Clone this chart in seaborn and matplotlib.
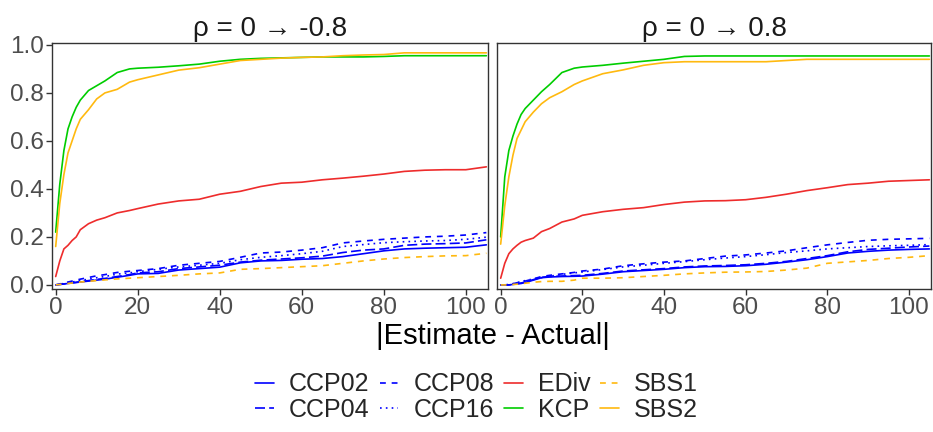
import matplotlib
matplotlib.use("Agg")
import matplotlib.pyplot as plt
from matplotlib.lines import Line2D
import seaborn as sns
import pandas as pd

x = [0, 1, 2, 3, 4, 5, 6, 8, 10, 12, 15, 18, 20, 25, 30, 35, 40, 45, 50,
     55, 60, 65, 70, 75, 80, 85, 90, 95, 100, 105]

# rho = 0 -> -0.8
ccp02_neg = [0, 0.002, 0.004, 0.006, 0.008, 0.01, 0.012, 0.016, 0.02, 0.024, 0.032, 0.04, 0.046, 0.048, 0.062,
             0.068, 0.074, 0.092, 0.10, 0.102, 0.107, 0.11, 0.118, 0.13, 0.142, 0.15, 0.153, 0.155, 0.157, 0.167]
ccp04_neg = [0, 0.002, 0.004, 0.007, 0.009, 0.011, 0.014, 0.018, 0.023, 0.027, 0.035, 0.043, 0.05, 0.055, 0.068,
             0.075, 0.082, 0.095, 0.103, 0.108, 0.113, 0.12, 0.135, 0.145, 0.15, 0.165, 0.17, 0.172, 0.175, 0.188]
ccp08_neg = [0, 0.004, 0.008, 0.012, 0.016, 0.02, 0.024, 0.031, 0.038, 0.043, 0.052, 0.057, 0.06, 0.068, 0.082,
             0.09, 0.098, 0.115, 0.133, 0.137, 0.145, 0.155, 0.175, 0.183, 0.19, 0.195, 0.2, 0.203, 0.208, 0.218]
ccp16_neg = [0, 0.003, 0.006, 0.009, 0.012, 0.015, 0.018, 0.024, 0.03, 0.035, 0.045, 0.05, 0.055, 0.065, 0.075,
             0.082, 0.09, 0.105, 0.115, 0.122, 0.13, 0.14, 0.16, 0.168, 0.176, 0.18, 0.183, 0.185, 0.19, 0.199]
ediv_neg = [0.035, 0.10, 0.15, 0.165, 0.185, 0.20, 0.23, 0.255, 0.27, 0.28, 0.30, 0.31, 0.318, 0.337, 0.35,
            0.357, 0.378, 0.39, 0.41, 0.424, 0.428, 0.438, 0.445, 0.453, 0.462, 0.473, 0.478, 0.48, 0.48, 0.492]
kcp_neg = [0.22, 0.42, 0.56, 0.65, 0.70, 0.74, 0.77, 0.81, 0.83, 0.85, 0.885, 0.90, 0.903, 0.907, 0.913,
           0.92, 0.932, 0.94, 0.944, 0.946, 0.948, 0.95, 0.95, 0.95, 0.952, 0.955, 0.955, 0.955, 0.955, 0.955]
sbs1_neg = [0, 0.002, 0.004, 0.006, 0.008, 0.01, 0.012, 0.015, 0.018, 0.021, 0.025, 0.028, 0.03, 0.035, 0.04,
            0.046, 0.05, 0.065, 0.068, 0.072, 0.076, 0.08, 0.09, 0.1, 0.108, 0.114, 0.118, 0.121, 0.122, 0.132]
sbs2_neg = [0.16, 0.34, 0.46, 0.55, 0.60, 0.65, 0.69, 0.73, 0.775, 0.80, 0.815, 0.845, 0.855, 0.875, 0.895,
            0.905, 0.92, 0.935, 0.94, 0.945, 0.948, 0.95, 0.955, 0.958, 0.96, 0.967, 0.967, 0.967, 0.967, 0.967]

# rho = 0 -> 0.8
ccp02_pos = [0, 0, 0, 0.002, 0.004, 0.006, 0.01, 0.02, 0.03, 0.033, 0.035, 0.036, 0.037, 0.045, 0.055,
             0.06, 0.065, 0.072, 0.076, 0.077, 0.08, 0.086, 0.095, 0.105, 0.118, 0.133, 0.14, 0.145, 0.148, 0.15]
ccp04_pos = [0, 0, 0, 0.002, 0.005, 0.008, 0.012, 0.022, 0.032, 0.035, 0.037, 0.039, 0.04, 0.048, 0.058,
             0.063, 0.068, 0.075, 0.079, 0.081, 0.084, 0.09, 0.098, 0.11, 0.122, 0.138, 0.148, 0.153, 0.158, 0.162]
ccp08_pos = [0, 0, 0.002, 0.005, 0.009, 0.012, 0.016, 0.025, 0.035, 0.04, 0.046, 0.052, 0.058, 0.066, 0.08,
             0.088, 0.095, 0.1, 0.11, 0.12, 0.125, 0.133, 0.142, 0.155, 0.167, 0.177, 0.186, 0.19, 0.192, 0.194]
ccp16_pos = [0, 0, 0.002, 0.005, 0.01, 0.014, 0.018, 0.025, 0.03, 0.036, 0.044, 0.05, 0.054, 0.064, 0.075,
             0.082, 0.09, 0.097, 0.105, 0.112, 0.118, 0.126, 0.135, 0.142, 0.15, 0.155, 0.16, 0.163, 0.165, 0.168]
ediv_pos = [0.028, 0.09, 0.13, 0.15, 0.165, 0.178, 0.185, 0.195, 0.222, 0.235, 0.262, 0.275, 0.29, 0.305, 0.315,
            0.322, 0.335, 0.345, 0.35, 0.351, 0.355, 0.365, 0.378, 0.393, 0.405, 0.418, 0.424, 0.432, 0.435, 0.438]
kcp_pos = [0.20, 0.45, 0.56, 0.62, 0.67, 0.71, 0.735, 0.77, 0.805, 0.835, 0.885, 0.903, 0.908, 0.915, 0.924,
           0.932, 0.94, 0.952, 0.954, 0.954, 0.954, 0.954, 0.954, 0.954, 0.954, 0.954, 0.954, 0.954, 0.954, 0.954]
sbs1_pos = [0, 0, 0, 0.002, 0.003, 0.005, 0.007, 0.011, 0.014, 0.015, 0.015, 0.02, 0.028, 0.028, 0.03,
            0.035, 0.04, 0.046, 0.05, 0.053, 0.054, 0.056, 0.062, 0.07, 0.09, 0.096, 0.102, 0.11, 0.115, 0.122]
sbs2_pos = [0.17, 0.33, 0.45, 0.54, 0.61, 0.645, 0.68, 0.72, 0.755, 0.78, 0.805, 0.835, 0.85, 0.88, 0.896,
            0.915, 0.926, 0.93, 0.93, 0.93, 0.93, 0.93, 0.935, 0.94, 0.94, 0.94, 0.94, 0.94, 0.94, 0.94]

methods = ["CCP02", "CCP04", "CCP08", "CCP16", "EDiv", "KCP", "SBS1", "SBS2"]
panels = ["ρ = 0 → -0.8", "ρ = 0 → 0.8"]
series = {
    panels[0]: [ccp02_neg, ccp04_neg, ccp08_neg, ccp16_neg, ediv_neg, kcp_neg, sbs1_neg, sbs2_neg],
    panels[1]: [ccp02_pos, ccp04_pos, ccp08_pos, ccp16_pos, ediv_pos, kcp_pos, sbs1_pos, sbs2_pos],
}

rows = []
for p in panels:
    for m, vals in zip(methods, series[p]):
        for xi, yi in zip(x, vals):
            rows.append((p, m, xi, yi))
df = pd.DataFrame(rows, columns=["panel", "method", "x", "y"])

palette = {"CCP02": "#0000FF", "CCP04": "#0000FF", "CCP08": "#0000FF", "CCP16": "#0000FF",
           "EDiv": "#EE2C2C", "KCP": "#00CD00", "SBS1": "#FFB90F", "SBS2": "#FFB90F"}
dashes = {"CCP02": "", "CCP04": (6, 2.5), "CCP08": (3.5, 3.5), "CCP16": (1, 2.5),
          "EDiv": "", "KCP": "", "SBS1": (3.5, 3.5), "SBS2": ""}

sns.set_theme(style="white")
plt.rcParams["font.family"] = ["Liberation Sans", "DejaVu Sans"]

fig = plt.figure(figsize=(9.33, 4.32), dpi=100)
W, H = 933, 432
boxes = [(52, 488), (497, 931)]
top, bottom = 43, 289
for i, (x0, x1) in enumerate(boxes):
    ax = fig.add_axes([x0 / W, 1 - bottom / H, (x1 - x0) / W, (bottom - top) / H])
    sub = df[df["panel"] == panels[i]]
    sns.lineplot(data=sub, x="x", y="y", hue="method", style="method", hue_order=methods,
                 style_order=methods, palette=palette, dashes=dashes, linewidth=1.2,
                 estimator=None, legend=False, ax=ax)
    ax.set_xlim(-0.9, 105.4)
    ax.set_ylim(-0.017, 1.008)
    ax.set_xticks([0, 20, 40, 60, 80, 100])
    ax.set_yticks([0, 0.2, 0.4, 0.6, 0.8, 1.0])
    ax.set_xlabel("")
    ax.set_ylabel("")
    ax.set_title(panels[i], fontsize=20, color="#1A1A1A", pad=5)
    for s in ax.spines.values():
        s.set_color("#333333")
        s.set_linewidth(1.0)
    ax.tick_params(axis="both", direction="out", length=4, width=1, color="#333333",
                   labelsize=17.5, labelcolor="#4D4D4D", pad=2,
                   bottom=True, left=(i == 0))
    if i == 0:
        ax.set_yticklabels([f"{v:.1f}" for v in ax.get_yticks()])
    else:
        ax.set_yticklabels([])

fig.text(0.528, 1 - 336 / H, "|Estimate - Actual|", ha="center", va="center",
         fontsize=21, color="black")

handles = [Line2D([0], [0], color=palette[m], lw=1.2,
                  linestyle=(0, dashes[m]) if dashes[m] else "-")
           for m in methods]
fig.legend(handles, methods, ncol=4, loc="center", bbox_to_anchor=(0.511, 1 - 397 / H),
           frameon=False, fontsize=18, handlelength=0.75, handletextpad=0.6,
           columnspacing=0.4, labelspacing=0.05, borderpad=0)

fig.savefig("out.png", dpi=100)
